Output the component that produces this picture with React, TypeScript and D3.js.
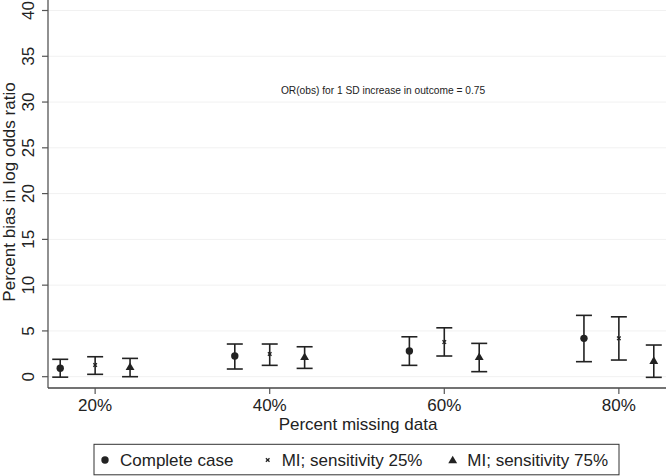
import React from "react";
import * as d3 from "d3";

const groups = [20, 40, 60, 80];
const seriesNames = ["Complete case", "MI; sensitivity 25%", "MI; sensitivity 75%"];
const seriesOffsets = [-4, 0, 4];
const ccMean = [0.92, 2.26, 2.8, 4.19];
const ccLo = [-0.05, 0.84, 1.24, 1.64];
const ccHi = [1.9, 3.57, 4.36, 6.7];
const mi25Mean = [1.28, 2.48, 3.78, 4.19];
const mi25Lo = [0.26, 1.24, 2.26, 1.82];
const mi25Hi = [2.18, 3.57, 5.34, 6.54];
const mi75Mean = [1.09, 2.18, 2.18, 1.75];
const mi75Lo = [0.0, 0.91, 0.55, -0.07];
const mi75Hi = [2.0, 3.27, 3.64, 3.46];
const yTicks = [0, 5, 10, 15, 20, 25, 30, 35, 40];
const xTickLabels = ["20%", "40%", "60%", "80%"];
const annotation = "OR(obs) for 1 SD increase in outcome = 0.75";

const W = 666, H = 476;
const FONT = "Liberation Sans, Arial, Helvetica, sans-serif";
const INK = "#222";

function Marker({ kind, cx, cy }: { kind: number; cx: number; cy: number }) {
  if (kind === 0) return <circle cx={cx} cy={cy} r={3.7} fill={INK} />;
  if (kind === 1) {
    const s = 1.8;
    return (
      <path
        d={`M${cx - s},${cy - s}L${cx + s},${cy + s}M${cx - s},${cy + s}L${cx + s},${cy - s}`}
        stroke={INK}
        strokeWidth={1.3}
      />
    );
  }
  const sym = d3.symbol().type(d3.symbolTriangle).size(34)();
  return <path d={sym as string} transform={`translate(${cx},${cy + 0.8})`} fill={INK} />;
}

export default function App() {
  const x = d3.scaleLinear().domain([14.6, 85.4]).range([48, 666]);
  const y = d3.scaleLinear().domain([0, 40]).range([376.7, 10.5]);
  const axisY = 388;
  const axisX = 48;
  const series = [
    { mean: ccMean, lo: ccLo, hi: ccHi },
    { mean: mi25Mean, lo: mi25Lo, hi: mi25Hi },
    { mean: mi75Mean, lo: mi75Lo, hi: mi75Hi },
  ];
  const cap = 8;

  const legendItems = [
    { mx: 105, tx: 120 },
    { mx: 267.7, tx: 281.7 },
    { mx: 452.7, tx: 467.3 },
  ];

  return (
    <svg
      width={W}
      height={H}
      style={{ position: "absolute", left: 0, top: 0, background: "#fff" }}
      fontFamily={FONT}
    >
      <rect x={0} y={0} width={W} height={H} fill="#fff" />
      {/* gridlines */}
      {yTicks.map((t) => (
        <line key={"g" + t} x1={axisX} x2={W} y1={y(t)} y2={y(t)} stroke="#f1f1f1" strokeWidth={1} />
      ))}
      {/* annotation */}
      <text x={383} y={93.5} fontSize={10.2} textAnchor="middle" fill={INK}>
        {annotation}
      </text>
      {/* error bars and markers */}
      {series.map((s, si) =>
        groups.map((g, gi) => {
          const cx = x(g + seriesOffsets[si]);
          return (
            <g key={`s${si}-${gi}`}>
              <line x1={cx} x2={cx} y1={y(s.lo[gi])} y2={y(s.hi[gi])} stroke={INK} strokeWidth={1.6} />
              <line x1={cx - cap} x2={cx + cap} y1={y(s.lo[gi])} y2={y(s.lo[gi])} stroke={INK} strokeWidth={1.6} />
              <line x1={cx - cap} x2={cx + cap} y1={y(s.hi[gi])} y2={y(s.hi[gi])} stroke={INK} strokeWidth={1.6} />
              <Marker kind={si} cx={cx} cy={y(s.mean[gi])} />
            </g>
          );
        })
      )}
      {/* y axis */}
      <line x1={axisX} x2={axisX} y1={0} y2={axisY} stroke="#555" strokeWidth={1.3} />
      {yTicks.map((t) => (
        <g key={"yt" + t}>
          <line x1={axisX - 6} x2={axisX} y1={y(t)} y2={y(t)} stroke="#555" strokeWidth={1.2} />
          <text
            transform={`translate(33.5,${y(t)}) rotate(-90)`}
            textAnchor="middle"
            fontSize={17}
            fill={INK}
          >
            {t}
          </text>
        </g>
      ))}
      <text
        transform={`translate(15,192) rotate(-90)`}
        textAnchor="middle"
        fontSize={17}
        fill={INK}
      >
        Percent bias in log odds ratio
      </text>
      {/* x axis */}
      <line x1={axisX} x2={W} y1={axisY} y2={axisY} stroke="#444" strokeWidth={1.3} />
      {groups.map((g, i) => (
        <g key={"xt" + g}>
          <line x1={x(g)} x2={x(g)} y1={axisY} y2={axisY + 6} stroke="#555" strokeWidth={1.2} />
          <text x={x(g)} y={411} textAnchor="middle" fontSize={17} fill={INK}>
            {xTickLabels[i]}
          </text>
        </g>
      ))}
      <text x={358} y={430} textAnchor="middle" fontSize={17} fill={INK}>
        Percent missing data
      </text>
      {/* legend */}
      <rect x={94} y={444.3} width={525} height={30.5} fill="#fff" stroke="#333" strokeWidth={1} />
      {legendItems.map((it, i) => (
        <g key={"lg" + i}>
          <Marker kind={i} cx={it.mx} cy={460} />
          <text x={it.tx} y={466} fontSize={17} fill={INK}>
            {seriesNames[i]}
          </text>
        </g>
      ))}
    </svg>
  );
}
